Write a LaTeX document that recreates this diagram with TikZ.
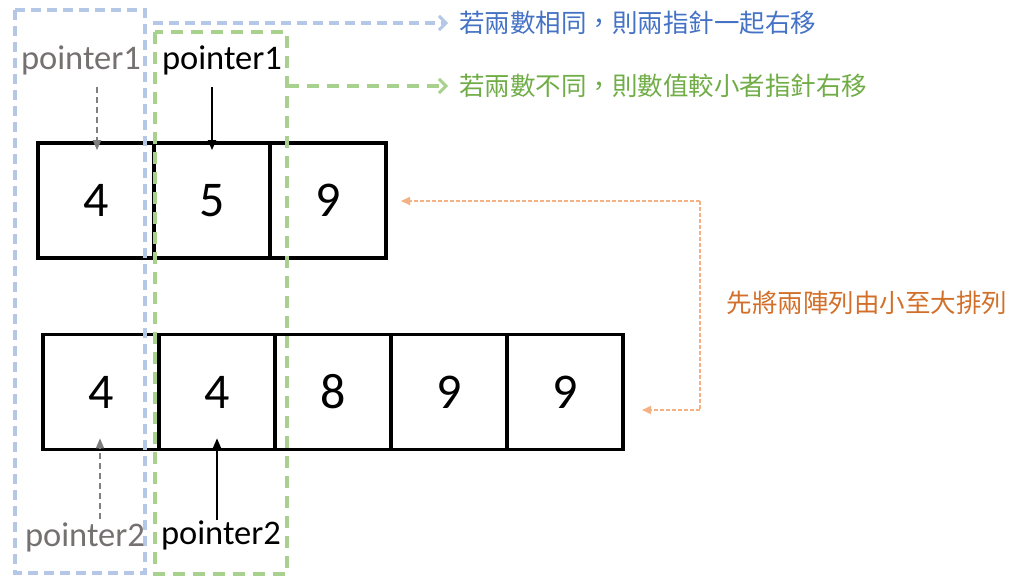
\documentclass[tikz,border=0pt]{standalone}
\usepackage{fontspec}
\setmainfont{Carlito}
\newfontfamily\cjk[Script=CJK,Language=Chinese Traditional]{Noto Sans CJK TC}
\usetikzlibrary{arrows.meta}
\definecolor{bline}{HTML}{B4C7E7}
\definecolor{btext}{HTML}{4472C4}
\definecolor{gline}{HTML}{A9D18E}
\definecolor{gtext}{HTML}{70AD47}
\definecolor{oline}{HTML}{F4B183}
\definecolor{otext}{HTML}{D2702B}
\definecolor{ptgray}{RGB}{118,113,113}
\definecolor{argray}{HTML}{7F7F7F}
\begin{document}
\begin{tikzpicture}[x=1pt,y=-1pt,
  cell/.style={draw=black,line width=3.6pt,minimum width=116pt,minimum height=115pt,inner sep=0pt,font=\fontsize{50}{58}\selectfont},
  ptr/.style={font=\fontsize{34.5}{40}\selectfont,inner sep=0pt},
  bluebox/.style={draw=bline,line width=3.3pt,dash pattern=on 10pt off 6pt},
  greenbox/.style={draw=gline,line width=3.3pt,dash pattern=on 12pt off 8pt},
  barb/.style={-{Straight Barb[length=7pt,width=14pt,line width=3pt]}},
  blk/.style={line width=1.8pt,-{Triangle[length=10pt,width=8pt]}},
  gry/.style={line width=1.8pt,draw=argray,dash pattern=on 6pt off 4pt,-{Triangle[length=10pt,width=8pt]},color=argray},
  orng/.style={draw=oline,line width=1.8pt,dash pattern=on 4pt off 2pt,-{Triangle[length=9pt,width=8pt]},color=oline},
  cjktext/.style={font=\cjk\fontsize{25.5}{30}\selectfont,inner sep=0pt}]
\useasboundingbox (0,0) rectangle (1024,577);
% top array
\node[cell] (t1) at (96,200.5) {4};
\node[cell] (t2) at (212,200.5) {5};
\node[cell] (t3) at (328,200.5) {9};
% bottom array
\node[cell] (b1) at (101,392) {4};
\node[cell] (b2) at (217,392) {4};
\node[cell] (b3) at (333,392) {8};
\node[cell] (b4) at (449,392) {9};
\node[cell] (b5) at (565,392) {9};
% dashed windows
\coordinate (bw1) at (15,10);
\coordinate (bw2) at (145,573);
\coordinate (gw1) at (155,32);
\coordinate (gw2) at (287,574);
\draw[bluebox] (bw1) rectangle (bw2);
\draw[greenbox] (gw1) rectangle (gw2);
% move arrows
\coordinate (ba1) at (153,23);
\coordinate (ba2) at (448,23);
\coordinate (ga1) at (287,86);
\coordinate (ga2) at (448,86);
\draw[bluebox,barb] (ba1) -- (ba2);
\draw[greenbox,barb] (ga1) -- (ga2);
\node[cjktext,text=btext,anchor=west] (tb) at (459,23) {若兩數相同，則兩指針一起右移};
\node[cjktext,text=gtext,anchor=west] (tg) at (459,86) {若兩數不同，則數值較小者指針右移};
% pointers
\node[ptr,text=ptgray] (p1g) at (81,60) {pointer1};
\node[ptr] (p1b) at (222,60) {pointer1};
\node[ptr,text=ptgray] (p2g) at (85,537) {pointer2};
\node[ptr] (p2b) at (221,535) {pointer2};
\coordinate (a1g) at (97,87);
\coordinate (a1b) at (212,87);
\coordinate (a2g) at (100,519);
\coordinate (a2b) at (217,520);
\draw[gry] (a1g) -- ([yshift=-9pt]a1g |- t1.north);
\draw[blk] (a1b) -- ([yshift=-9pt]a1b |- t2.north);
\draw[gry] (a2g) -- ([yshift=13pt]a2g |- b1.south);
\draw[blk] (a2b) -- ([yshift=13pt]a2b |- b2.south);
% sort bracket
\coordinate (oc1) at (700,201);
\coordinate (oc2) at (700,410);
\coordinate (oe1) at (401,201);
\coordinate (oe2) at (642,410);
\draw[orng] (oc1) -- (oe1);
\draw[orng] (oc2) -- (oe2);
\draw[draw=oline,line width=1.8pt,dash pattern=on 4pt off 2pt] (oc1) -- (oc2);
\node[cjktext,text=otext] (to) at (867,303) {先將兩陣列由小至大排列};
\end{tikzpicture}
\end{document}
